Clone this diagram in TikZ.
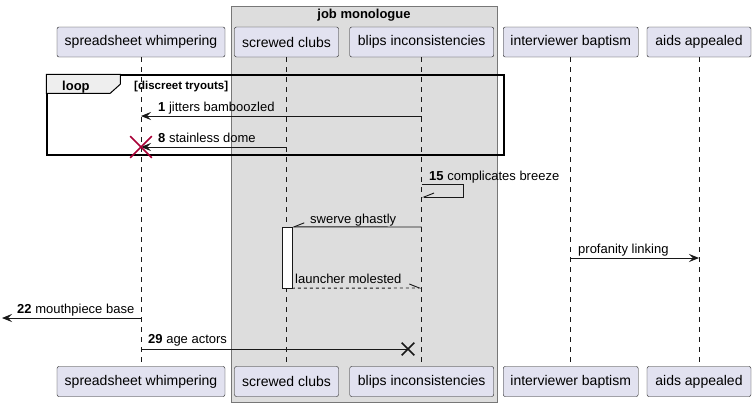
\documentclass[tikz,border=0pt]{standalone}
\usepackage{fontspec}
\setmainfont{Liberation Sans}
\usetikzlibrary{arrows.meta,positioning,shapes.misc}
\definecolor{part-fill}{HTML}{E2E2F0}
\definecolor{line-dark}{HTML}{181818}
\definecolor{grp-fill}{HTML}{DDDDDD}
\definecolor{grp-line}{HTML}{777777}
\definecolor{tab-fill}{HTML}{EEEEEE}
\definecolor{kill-red}{HTML}{A80036}

\begin{document}
\begin{tikzpicture}[x=1pt, y=-1pt, font=\fontsize{13}{15}\selectfont,
	   p/.style={draw=line-dark, fill=part-fill, rounded corners=2pt, minimum height=30pt, inner sep=0pt, font=\fontsize{14}{16}\selectfont},
	   life/.style={draw=line-dark, line width=0.5pt, dash pattern=on 5pt off 5pt},
	   msg/.style={draw=line-dark, line width=0.9pt},
	   full/.style={-{Stealth[length=10pt, width=8pt, inset=4pt, line-dark]}},
	   half/.style={-{Straight Barb[harpoon, length=10pt, width=8pt]}},
	   halfsw/.style={-{Straight Barb[harpoon, swap, length=10pt, width=8pt]}},
	   lbl/.style={anchor=base west, inner sep=0pt},
	   kill/.style={cross out, draw=#1, line width=1.6pt, inner sep=0pt}]
	  \useasboundingbox (0,0) rectangle (756,407);
	  \node[draw=grp-line, line width=1pt, fill=grp-fill, minimum width=266pt, minimum height=396pt, inner sep=0pt] (jm) at (364,204) {};
	  \node[anchor=base, font=\fontsize{13}{15}\selectfont\bfseries] (jmt) at (364,18) {job monologue};
	  \node[p, minimum width=168pt] (sw) at (141,42) {spreadsheet whimpering};
	  \node[p, minimum width=104pt] (sc) at (286.5,42) {screwed clubs};
	  \node[p, minimum width=144pt] (bi) at (421.7,42) {blips inconsistencies};
	  \node[p, minimum width=135pt] (ib) at (570.7,42) {interviewer baptism};
	  \node[p, minimum width=104pt] (aa) at (699,42) {aids appealed};
	  \node[p, minimum width=168pt] (sw2) at (141,381.5) {spreadsheet whimpering};
	  \node[p, minimum width=104pt] (sc2) at (286.5,381.5) {screwed clubs};
	  \node[p, minimum width=144pt] (bi2) at (421.7,381.5) {blips inconsistencies};
	  \node[p, minimum width=135pt] (ib2) at (570.7,381.5) {interviewer baptism};
	  \node[p, minimum width=104pt] (aa2) at (699,381.5) {aids appealed};
	  \foreach \a in {sw,sc,bi,ib,aa}
	    \draw[life] (\a) -- (\a2);
	  % loop frame
	  \node[draw=black, line width=1.5pt, minimum width=457pt, minimum height=80pt, inner sep=0pt] (lp) at (275.5,115) {};
	  \draw[draw=black, line width=1pt, fill=tab-fill] (lp.north west) -- ++(74,0) -- ++(0,10) -- ++(-10,9) -- ++(-64,0) -- cycle;
	  \node[lbl, font=\fontsize{13}{15}\selectfont\bfseries] (lpt) at (62,90) {loop};
	  \node[lbl, font=\fontsize{11.5}{14}\selectfont\bfseries] (lpc) at (134,89.5) {[discreet tryouts]};
	  \draw[msg, full] (bi |- 0,116) -- (sw |- 0,116);
	  \node[lbl] (l1) at (158,111.5) {\textbf{1} jitters bamboozled};
	  \draw[msg, full] (sc |- 0,147) -- (sw |- 0,147);
	  \node[lbl] (l8) at (158,142) {\textbf{8} stainless dome};
	  \node[kill=kill-red, minimum size=20pt] (x8) at (sw |- 0,147) {};
	  % self message
	  \draw[msg, halfsw] (bi |- 0,184) -- ++(42,0) |- (bi |- 0,197);
	  \node[lbl] (l15) at (429,180) {\textbf{15} complicates breeze};
	  \node[draw=line-dark, fill=white, minimum width=10pt, minimum height=61pt, inner sep=0pt] (act) at (286.7,257.5) {};
	  \draw[msg, halfsw] (bi |- 0,227) -- (act.north east);
	  \node[lbl] (lsg) at (310,223) {swerve ghastly};
	  \draw[msg, full] (ib |- 0,258) -- (aa |- 0,258);
	  \node[lbl] (lpl) at (578,253) {profanity linking};
	  \draw[msg, dashed, half] (act.south east) -- (bi |- 0,288);
	  \node[lbl] (llm) at (295,283) {launcher molested};
	  \coordinate (out22) at (2,318);
	  \draw[msg, full] (sw |- 0,318) -- (out22);
	  \node[lbl] (l22) at (17,313) {\textbf{22} mouthpiece base};
	  \node[kill=line-dark, minimum size=11pt] (x29) at (408,349) {};
	  \draw[msg] (sw |- 0,349) -- (x29.center);
	  \node[lbl] (l29) at (148,343.7) {\textbf{29} age actors};
	\end{tikzpicture}
\end{document}
